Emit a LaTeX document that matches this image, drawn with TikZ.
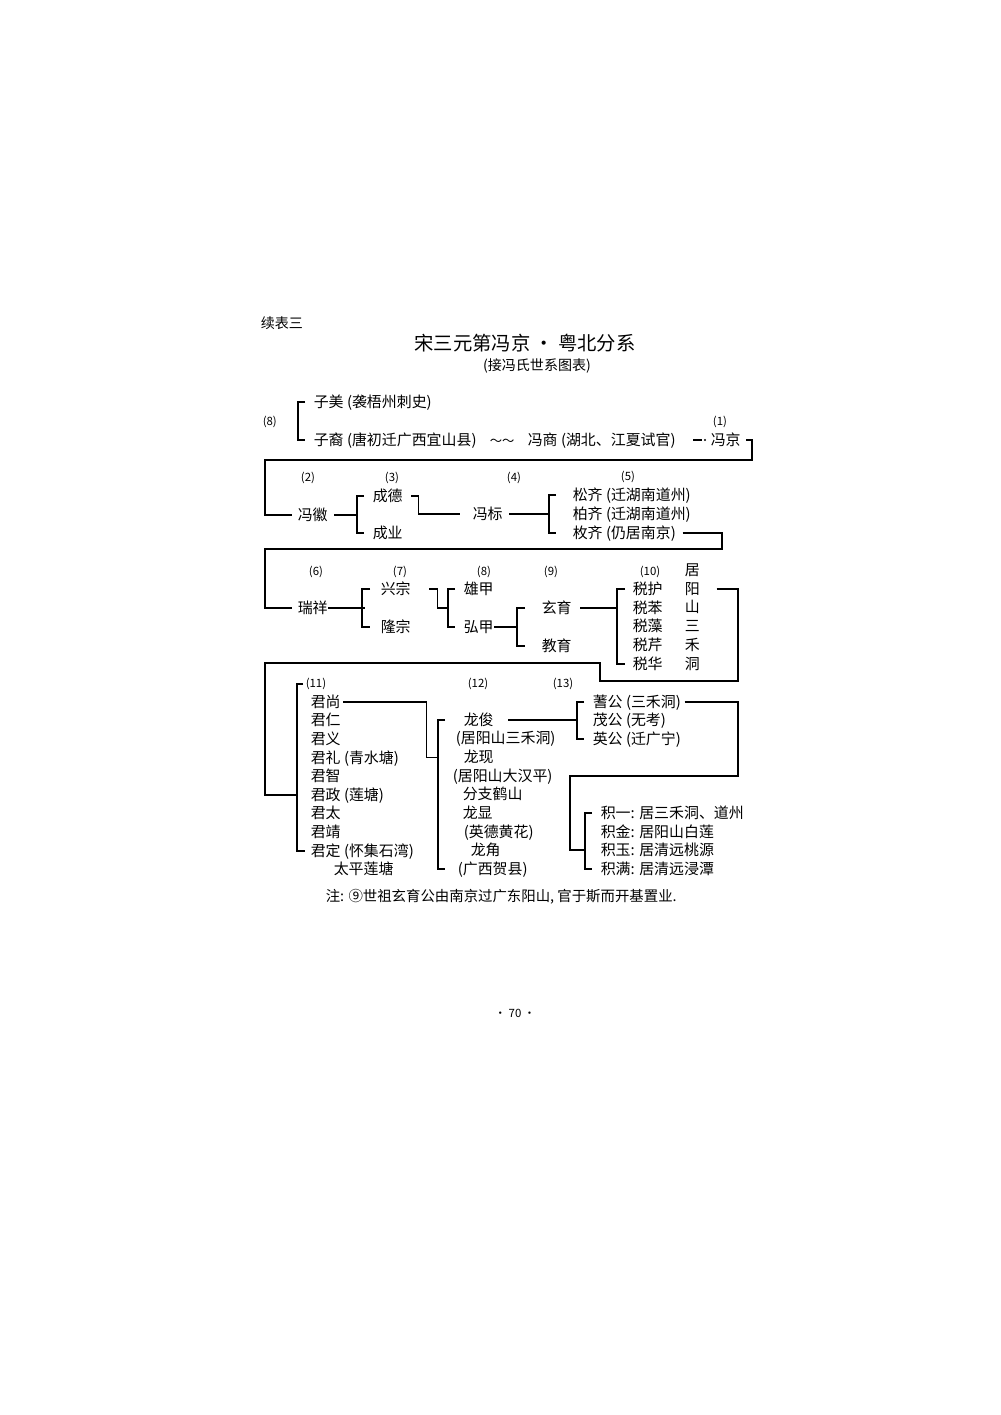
\documentclass[tikz,border=0pt]{standalone}
\usepackage{fontspec}
\setmainfont{Noto Sans CJK SC}
\newlength\pxu
\setlength\pxu{0.02cm}
\tikzset{
  txt/.style={anchor=west,inner sep=0pt,font=\fontsize{8.5}{10}\selectfont,text height=7.5pt,text depth=1.5pt},
  gen/.style={inner sep=0pt,font=\fontsize{6.5}{8}\selectfont},
}
\begin{document}
\begin{tikzpicture}[x=0.02cm,y=-0.02cm,line width=0.9pt]
	\useasboundingbox[fill=white] (0,0) rectangle (1000,1415);
	% heading
	\node[txt,font=\fontsize{8}{9}\selectfont] (xubiao) at (260,323) {续表三};
	\node[inner sep=0pt,font=\fontsize{11}{13}\selectfont] (title) at (525,343) {宋三元第冯京 ・ 粤北分系};
	\node[inner sep=0pt,font=\fontsize{8}{9}\selectfont] (subtitle) at (537,366) {(接冯氏世系图表)};
	% row 1
	\node[gen,anchor=west] (g8a) at (262,422) {(8)};
	\node[txt] (zimei) at (313,402) {子美 (袭梧州刺史)};
	\node[txt] (ziyi) at (313,440) {子裔 (唐初迁广西宜山县)};
	\node[txt,font=\fontsize{7}{8}\selectfont] (tilde) at (489,440) {～～};
	\node[txt] (fengshang) at (527,440) {冯商 (湖北、江夏试官)};
	\node[gen] (g1) at (720,422) {(1)};
	\node[txt] (fengjing) at (710,440) {冯京};
	% row 2
	\node[gen] (g2) at (308,478) {(2)};
	\node[txt] (fengzhi) at (297,515) {冯徽};
	\node[gen] (g3) at (392,478) {(3)};
	\node[txt] (chengde) at (372,496) {成德};
	\node[txt] (chengye) at (372,533) {成业};
	\node[gen] (g4) at (514,478) {(4)};
	\node[txt] (fengbiao) at (472,514) {冯标};
	\node[gen] (g5) at (628,477) {(5)};
	\node[txt] (songqi) at (572,495) {松齐 (迁湖南道州)};
	\node[txt] (baiqi) at (572,514) {柏齐 (迁湖南道州)};
	\node[txt] (meiqi) at (572,533) {枚齐 (仍居南京)};
	% row 3
	\node[gen] (g6) at (316,572) {(6)};
	\node[txt] (ruixiang) at (297,608) {瑞祥};
	\node[gen] (g7) at (400,572) {(7)};
	\node[txt] (xingzong) at (380,589) {兴宗};
	\node[txt] (longzong) at (380,627) {隆宗};
	\node[gen] (g8) at (484,572) {(8)};
	\node[txt] (xiongjia) at (463,589) {雄甲};
	\node[txt] (hongjia) at (463,627) {弘甲};
	\node[gen] (g9) at (551,572) {(9)};
	\node[txt] (xuanyu) at (541,608) {玄育};
	\node[txt] (jiaoyu) at (541,646) {教育};
	\node[gen] (g10) at (650,572) {(10)};
	\foreach \t [count=\i] in {税护,税苯,税藻,税芹,税华}
		\node[txt] (shui\i) at (632,{589+18.75*(\i-1)}) {\t};
	\foreach \t [count=\i] in {居,阳,山,三,禾,洞}
		\node[txt] (ju\i) at (684,{570+18.8*(\i-1)}) {\t};
	% row 4
	\node[gen,anchor=west] (g11) at (305,684) {(11)};
	\foreach \t [count=\i] in {君尚,君仁,君义,君礼 (青水塘),君智,君政 (莲塘),君太,君靖,君定 (怀集石湾)}
		\node[txt] (jun\i) at (310,{702+18.6*(\i-1)}) {\t};
	\node[txt] (taiping) at (333,869) {太平莲塘};
	\node[gen] (g12) at (478,684) {(12)};
	\node[gen] (g13) at (563,684) {(13)};
	\foreach \x/\t [count=\i] in {463/龙俊,455/(居阳山三禾洞),463/龙现,452/(居阳山大汉平),462/分支鹤山,462/龙显,463/(英德黄花),470/龙角,457/(广西贺县)}
		\node[txt] (lz\i) at (\x,{720+18.65*(\i-1)}) {\t};
	\node[txt] (shigong) at (592,702) {蓍公 (三禾洞)};
	\node[txt] (maogong) at (592,720) {茂公 (无考)};
	\node[txt] (yinggong) at (592,739) {英公 (迁广宁)};
	\node[txt] (jiyi) at (600,813) {积一: 居三禾洞、道州};
	\node[txt] (jijin) at (600,832) {积金: 居阳山白莲};
	\node[txt] (jiyu) at (600,850) {积玉: 居清远桃源};
	\node[txt] (jiman) at (600,869) {积满: 居清远浸潭};
	% note and page
	\node[txt,font=\fontsize{8.2}{9}\selectfont] (note) at (325,896) {注: ⑨世祖玄育公由南京过广东阳山, 官于斯而开基置业.};
	\node[gen] (page) at (515,1013) {· 70 ·};
	% turning points
	\coordinate (r1) at (752,460); \coordinate (l1) at (265,460);
	\coordinate (r2) at (722,549); \coordinate (l2) at (265,549);
	\coordinate (r3) at (738,681); \coordinate (m3) at (600,681);
	\coordinate (n3) at (600,663); \coordinate (l3) at (265,663);
	\coordinate (r4) at (738,776); \coordinate (l4) at (570,776);
	% connectors
	\draw ([xshift=-8*\pxu]zimei.west) -- ++(-7,0) |- ([xshift=-8*\pxu]ziyi.west);
	\draw ([xshift=-17*\pxu]fengjing.west) -- ++(9,0);
	\fill ([xshift=-5*\pxu]fengjing.west) circle (1.2);
	\draw ([xshift=5*\pxu]fengjing.east) -| (r1) -- (l1) |- ([xshift=-5*\pxu]fengzhi.west);
	\draw ([xshift=6*\pxu]fengzhi.east) -- ++(23,0);
	\draw ([xshift=-8*\pxu]chengde.west) -- ++(-7,0) |- ([xshift=-8*\pxu]chengye.west);
	\draw ([xshift=8*\pxu]chengde.east) -- ++(7,0) |- ([xshift=-12*\pxu]fengbiao.west);
	\draw ([xshift=6*\pxu]fengbiao.east) -- ++(40,0);
	\draw ([xshift=-16*\pxu]songqi.west) -- ++(-7,0) |- ([xshift=-16*\pxu]meiqi.west);
	\draw ([xshift=6*\pxu]meiqi.east) -| (r2) -- (l2) |- ([xshift=-5*\pxu]ruixiang.west);
	\draw (ruixiang.east) -- ++(37,0);
	\draw ([xshift=-10*\pxu]xingzong.west) -- ++(-8,0) |- ([xshift=-10*\pxu]longzong.west);
	\draw ([xshift=18*\pxu]xingzong.east) -- ++(8,0) |- ([xshift=-15*\pxu]xiongjia.west |- ruixiang.west);
	\draw ([xshift=-8*\pxu]xiongjia.west) -- ++(-7,0) |- ([xshift=-8*\pxu]hongjia.west);
	\draw (hongjia.east) -- ++(23,0);
	\draw ([xshift=-16*\pxu]xuanyu.west) -- ++(-8,0) |- ([xshift=-16*\pxu]jiaoyu.west);
	\draw ([xshift=8*\pxu]xuanyu.east) -- ++(38,0);
	\draw ([xshift=-7*\pxu]shui1.west) -- ++(-8,0) |- ([xshift=-7*\pxu]shui5.west);
	\draw ([xshift=16*\pxu]ju2.east) -| (r3) -- (m3) -- (n3) -- (l3) |- ([xshift=-13*\pxu]jun6.west);
	\draw ([xshift=-2*\pxu]g11.west) -- ++(-6,0) |- ([xshift=-5*\pxu]jun9.west);
	\draw ([xshift=2*\pxu]jun1.east) -- ++(83,0) |- ([xshift=-25*\pxu]lz1.west |- lz3.west);
	\draw ([xshift=-18*\pxu]lz1.west) -- ++(-7,0) |- ([xshift=-12*\pxu]lz9.west);
	\draw ([xshift=14*\pxu]lz1.east) -- ++(69,0);
	\draw ([xshift=-8*\pxu]shigong.west) -- ++(-7,0) |- ([xshift=-8*\pxu]yinggong.west);
	\draw ([xshift=3*\pxu]shigong.east) -| (r4) -- (l4) |- ([xshift=-15*\pxu]jiyu.west);
	\draw ([xshift=-8*\pxu]jiyi.west) -- ++(-7,0) |- ([xshift=-8*\pxu]jiman.west);
\end{tikzpicture}
\end{document}
